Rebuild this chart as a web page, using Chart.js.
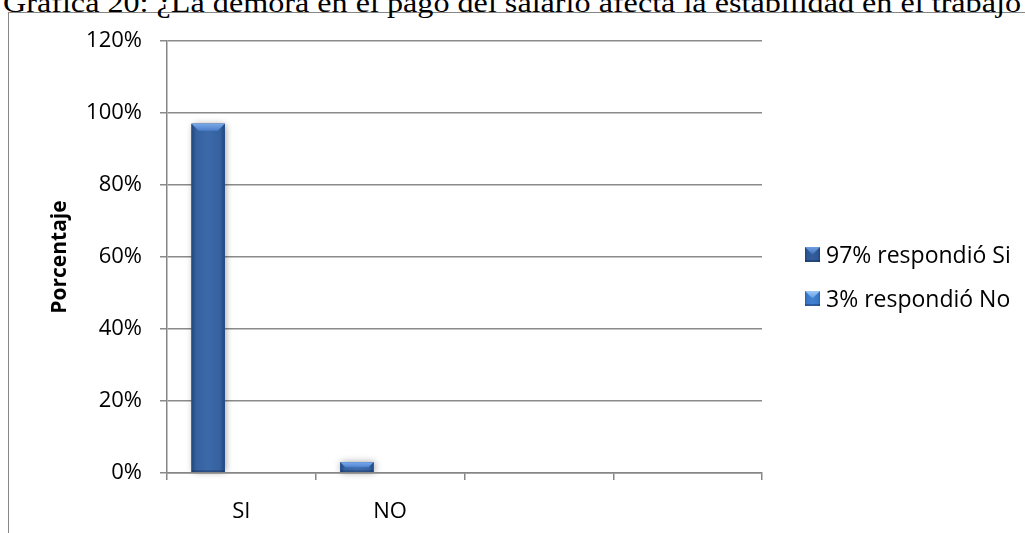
<!DOCTYPE html>
<html lang="es">
<head>
<meta charset="utf-8">
<title>Gráfica 20</title>
<script src="https://cdn.jsdelivr.net/npm/chart.js@4.4.1/dist/chart.umd.min.js"></script>
<style>
  html, body { margin: 0; padding: 0; background: #fff; }
  body { width: 1025px; height: 533px; position: relative; overflow: hidden; }
  #frame { position: absolute; left: 8px; top: 12px; width: 1100px; height: 600px;
           border-left: 1px solid #868686; border-top: 1px solid #868686; }
  #title { position: absolute; left: 3px; top: -11px; font-family: 'Liberation Serif', serif;
           font-size: 28px; line-height: 28px; white-space: nowrap; transform-origin: 0 0; color: #000; }
  #chart { position: absolute; left: 0; top: 0; }
  #legend { position: absolute; left: 805px; top: 0; font-family: 'Open Sans', sans-serif;
            font-size: 23px; color: #000; }
  .item { position: absolute; left: 0; height: 30px; line-height: 30px; white-space: nowrap;
          display: flex; align-items: center; }
  .item canvas { margin-right: 6px; }
</style>
</head>
<body>
<div id="frame"></div>
<div id="title">Gráfica 20: ¿La demora en el pago del salario afecta la estabilidad en el trabajo?</div>
<canvas id="chart" width="1025" height="533"></canvas>
<div id="legend"></div>
<script>
// Categories on the x axis (the last two slots are empty)
const categories = ['SI', 'NO', '', ''];

// Series names and values (percent)
const siLabel = '97% respondió Si';
const noLabel = '3% respondió No';
const siValues = [97, null, null, null];
const noValues = [null, 3, null, null];
// Two unused series keep the bar slots in each category
const emptyValues = [null, null, null, null];

// Value axis
const yMin = 0;
const yMax = 120;
const yStep = 20;
const yTitle = 'Porcentaje';

// Fit the title line to its width
(function () {
  const el = document.getElementById('title');
  const m = document.createElement('canvas').getContext('2d');
  m.font = "28px 'Liberation Serif'";
  const w = m.measureText('Gráfica 20: ¿La demora en el pago del salario afecta la estabilidad en el trabajo').width;
  el.style.transform = 'scaleX(' + (1018 / w) + ')';
})();

// Shading for the bevelled bars and legend keys
const barLook = [
  { body: '#3561a0', edge: '#21477c', mid: '#3c69a9', topLight: '#79a8ea', topDark: '#4a7ec7' },
  { body: '#3764a6', edge: '#234a82', mid: '#3f6dae', topLight: '#7cacee', topDark: '#4d82cb' }
];
const keyLook = [
  { body: '#2d5693', edge: '#1f4276', mid: '#335e9c', topLight: '#6d9de2', topDark: '#4676bd' },
  { body: '#3b79c7', edge: '#2c62a8', mid: '#4282d0', topLight: '#9cc8f7', topDark: '#63a0e6' }
];

function paintBevel(ctx, left, top, right, bottom, look, depth) {
  const w = right - left, h = bottom - top;
  if (w <= 0 || h <= 0) return;
  const g = ctx.createLinearGradient(left, 0, right, 0);
  g.addColorStop(0, look.edge);
  g.addColorStop(0.14, look.body);
  g.addColorStop(0.5, look.mid);
  g.addColorStop(0.86, look.body);
  g.addColorStop(1, look.edge);
  ctx.fillStyle = g;
  ctx.fillRect(left, top, w, h);
  // lighter top facet
  const b = Math.min(depth, h * 0.5, w * 0.45);
  const tg = ctx.createLinearGradient(0, top, 0, top + b);
  tg.addColorStop(0, look.topLight);
  tg.addColorStop(1, look.topDark);
  ctx.beginPath();
  ctx.moveTo(left, top);
  ctx.lineTo(right, top);
  ctx.lineTo(right - b, top + b);
  ctx.lineTo(left + b, top + b);
  ctx.closePath();
  ctx.fillStyle = tg;
  ctx.fill();
  // darker bottom edge
  const bb = Math.min(2, h * 0.2);
  ctx.fillStyle = 'rgba(15,35,70,0.35)';
  ctx.fillRect(left, bottom - bb, w, bb);
}

const bevelBars = {
  id: 'bevelBars',
  afterDatasetsDraw(chart) {
    const ctx = chart.ctx;
    chart.data.datasets.forEach((ds, di) => {
      const look = barLook[di];
      if (!look) return;
      const meta = chart.getDatasetMeta(di);
      meta.data.forEach((bar, i) => {
        if (ds.data[i] === null || ds.data[i] === undefined) return;
        const p = bar.getProps(['x', 'y', 'base', 'width'], true);
        const left = p.x - p.width / 2, right = p.x + p.width / 2;
        const top = Math.min(p.y, p.base), bottom = Math.max(p.y, p.base);
        ctx.save();
        ctx.shadowColor = 'rgba(0,0,0,0.4)';
        ctx.shadowBlur = 7;
        ctx.shadowOffsetX = 1;
        ctx.fillStyle = look.body;
        ctx.fillRect(left, top, right - left, bottom - top);
        ctx.restore();
        paintBevel(ctx, left, top, right, bottom, look, 7);
      });
    });
  }
};

const tickFont = { family: "'Open Sans'", size: 22 };

const chart = new Chart(document.getElementById('chart'), {
  type: 'bar',
  data: {
    labels: categories,
    datasets: [
      { label: siLabel, data: siValues, stack: 'a', backgroundColor: barLook[0].body },
      { label: noLabel, data: noValues, stack: 'a', backgroundColor: barLook[1].body },
      { label: '', data: emptyValues, stack: 'b', backgroundColor: 'rgba(0,0,0,0)' },
      { label: '', data: emptyValues, stack: 'c', backgroundColor: 'rgba(0,0,0,0)' }
    ]
  },
  options: {
    responsive: false,
    animation: false,
    devicePixelRatio: 1,
    layout: { padding: { left: 30, top: 41, right: 263, bottom: 0 } },
    datasets: { bar: { categoryPercentage: 0.67, barPercentage: 1 } },
    plugins: {
      legend: { display: false },
      tooltip: { enabled: false },
      title: { display: false }
    },
    scales: {
      x: {
        offset: true,
        grid: { display: true, drawOnChartArea: false, drawTicks: true, tickLength: 7,
                color: '#868686', lineWidth: 1.5, offset: true },
        border: { display: true, color: '#868686', width: 1.5, z: 1 },
        ticks: { padding: 19, color: '#000', font: tickFont, maxRotation: 0 },
        afterFit: (s) => { s.height = 60; }
      },
      y: {
        stacked: true,
        min: yMin,
        max: yMax,
        grid: { color: '#8a8a8a', lineWidth: 1.5, tickLength: 7 },
        border: { display: true, color: '#868686', width: 1.5 },
        ticks: { stepSize: yStep, padding: 18, color: '#000', font: tickFont,
                 callback: (v) => v + '%' },
        title: { display: true, text: yTitle, color: '#000',
                 font: { family: "'Open Sans'", size: 21, weight: 'bold' },
                 padding: { top: 17, bottom: 0 } },
        afterFit: (s) => { s.width = 137; }
      }
    }
  },
  plugins: [bevelBars]
});

// Legend with bevelled keys
(function () {
  const box = document.getElementById('legend');
  const rows = [
    { text: siLabel, look: keyLook[0], top: 239 },
    { text: noLabel, look: keyLook[1], top: 283 }
  ];
  rows.forEach((r) => {
    const item = document.createElement('div');
    item.className = 'item';
    item.style.top = r.top + 'px';
    const key = document.createElement('canvas');
    key.width = 15; key.height = 15;
    paintBevel(key.getContext('2d'), 0, 0, 15, 15, r.look, 7);
    const span = document.createElement('span');
    span.textContent = r.text;
    item.appendChild(key);
    item.appendChild(span);
    box.appendChild(item);
  });
})();
</script>
</body>
</html>
